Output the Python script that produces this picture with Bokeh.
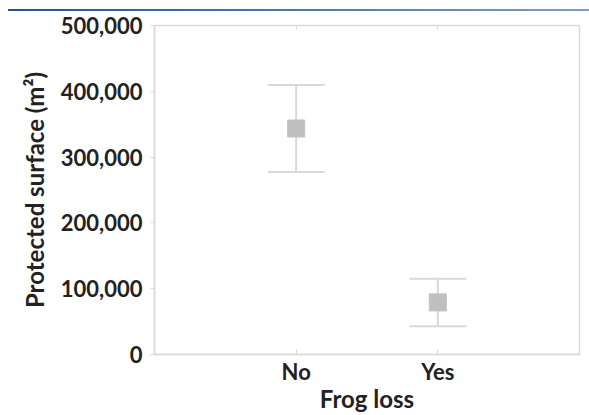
from bokeh.plotting import figure
from bokeh.layouts import column
from bokeh.models import (ColumnDataSource, Whisker, TeeHead, FixedTicker,
                          NumeralTickFormatter, LinearAxis, Range1d, Div)
from bokeh.embed import file_html
from bokeh.resources import INLINE

# ---- data ----
categories = ["No", "Yes"]
means = [343500, 79200]
upper = [409500, 115000]
lower = [277300, 43000]
y_ticks = [0, 100000, 200000, 300000, 400000, 500000]
x_label = "Frog loss"
y_label = "Protected surface (m\u00b2)"

x_pos = [i + 1 for i in range(len(categories))]

FONT = "Lato"
TEXT = "#222222"
GRAY = "#d9d9d9"
MARK = "#c0c0c0"

src = ColumnDataSource(dict(x=x_pos, mean=means, upper=upper, lower=lower))

# thin blue rule across the top (plain HTML block, no text)
rule = Div(text="", width=581, height=2, margin=(9, 0, 0, 8),
           styles={"background": "linear-gradient(to right, #22548f, #7e9ec2)"})

p = figure(width=589, height=404, x_range=Range1d(0, 3), y_range=Range1d(0, 500000),
           output_backend="svg", toolbar_location=None,
           min_border_left=154, min_border_right=10, min_border_top=14, min_border_bottom=60,
           x_axis_location=None, y_axis_location=None)
p.grid.visible = False
p.outline_line_color = GRAY
p.outline_line_width = 1.5

xb = LinearAxis(ticker=FixedTicker(ticks=x_pos),
                major_label_overrides={x: c for x, c in zip(x_pos, categories)})
xb.axis_label = x_label
xb.major_tick_in = 5
xb.major_tick_out = 0
xb.minor_tick_line_color = None
xb.major_tick_line_color = GRAY
xb.axis_line_color = GRAY
xb.axis_line_width = 1.5
xb.major_label_standoff = 3
xb.axis_label_standoff = -4
xb.major_label_text_font = FONT
xb.major_label_text_font_style = "bold"
xb.major_label_text_font_size = "22px"
xb.major_label_text_color = TEXT
xb.axis_label_text_font = FONT
xb.axis_label_text_font_style = "bold"
xb.axis_label_text_font_size = "24px"
xb.axis_label_text_color = TEXT
p.add_layout(xb, "below")

xt = LinearAxis(ticker=FixedTicker(ticks=x_pos),
                major_label_overrides={x: "" for x in x_pos})
xt.major_tick_in = 4
xt.major_tick_out = 0
xt.minor_tick_line_color = None
xt.major_tick_line_color = GRAY
xt.axis_line_color = GRAY
xt.major_label_standoff = 0
p.add_layout(xt, "above")

yl = LinearAxis(ticker=FixedTicker(ticks=y_ticks), formatter=NumeralTickFormatter(format="0,0"))
yl.axis_label = y_label
yl.major_tick_in = 0
yl.major_tick_out = 4
yl.minor_tick_line_color = None
yl.major_tick_line_color = GRAY
yl.axis_line_color = GRAY
yl.axis_line_width = 1.5
yl.major_label_standoff = 8
yl.axis_label_standoff = 9
yl.major_label_text_font = FONT
yl.major_label_text_font_style = "bold"
yl.major_label_text_font_size = "22px"
yl.major_label_text_color = TEXT
yl.axis_label_text_font = FONT
yl.axis_label_text_font_style = "bold"
yl.axis_label_text_font_size = "24px"
yl.axis_label_text_color = TEXT
p.add_layout(yl, "left")

w = Whisker(base="x", upper="upper", lower="lower", source=src,
            line_color=GRAY, line_width=2,
            upper_head=TeeHead(size=57, line_color=GRAY, line_width=2),
            lower_head=TeeHead(size=57, line_color=GRAY, line_width=2))
p.add_layout(w)

p.scatter(x="x", y="mean", source=src, marker="square", size=17,
          fill_color=MARK, line_color=MARK)

layout = column(rule, p, spacing=0)
open("out.html", "w").write(file_html(layout, INLINE))
